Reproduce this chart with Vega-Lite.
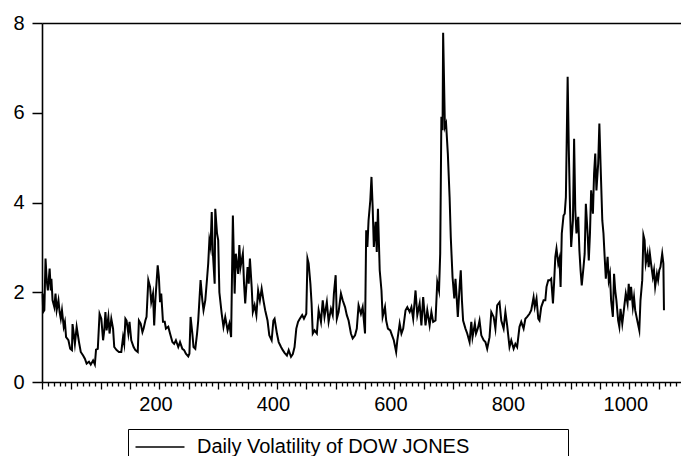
{
  "$schema": "https://vega.github.io/schema/vega-lite/v6.json",
  "width": 639,
  "height": 359,
  "autosize": {"type": "none"},
  "padding": {"left": 42, "top": 23, "right": 0, "bottom": 74},
  "background": "white",
  "config": {
    "view": {"stroke": null},
    "font": "Liberation Sans"
  },
  "data": {"values": [
{"t":1,"v":1.97},{"t":2,"v":1.56},{"t":4,"v":1.6},{"t":6,"v":2.75},{"t":8,"v":2.27},{"t":10,"v":2.04},{"t":13,"v":2.53},{"t":15,"v":2.04},{"t":16,"v":2.3},{"t":18,"v":1.82},{"t":21,"v":1.67},{"t":23,"v":1.97},{"t":25,"v":1.6},{"t":28,"v":1.82},{"t":30,"v":1.56},{"t":32,"v":1.41},{"t":34,"v":1.6},{"t":37,"v":1.23},{"t":39,"v":1.34},{"t":41,"v":1.0},{"t":45,"v":0.93},{"t":48,"v":0.74},{"t":51,"v":0.71},{"t":52,"v":1.29},{"t":54,"v":1.08},{"t":56,"v":0.85},{"t":59,"v":1.23},{"t":63,"v":0.89},{"t":66,"v":0.67},{"t":70,"v":0.59},{"t":73,"v":0.52},{"t":76,"v":0.41},{"t":80,"v":0.45},{"t":83,"v":0.39},{"t":87,"v":0.48},{"t":90,"v":0.39},{"t":92,"v":0.72},{"t":95,"v":0.74},{"t":98,"v":1.52},{"t":101,"v":1.41},{"t":104,"v":0.93},{"t":106,"v":1.15},{"t":108,"v":1.56},{"t":110,"v":1.15},{"t":113,"v":1.45},{"t":115,"v":1.08},{"t":118,"v":1.41},{"t":121,"v":1.19},{"t":123,"v":0.78},{"t":127,"v":0.71},{"t":131,"v":0.67},{"t":135,"v":0.67},{"t":138,"v":1.0},{"t":140,"v":0.85},{"t":142,"v":1.41},{"t":144,"v":1.37},{"t":147,"v":1.08},{"t":149,"v":1.34},{"t":152,"v":0.93},{"t":156,"v":0.78},{"t":159,"v":0.71},{"t":163,"v":0.67},{"t":165,"v":1.37},{"t":168,"v":1.3},{"t":171,"v":1.11},{"t":173,"v":1.19},{"t":176,"v":1.37},{"t":178,"v":1.45},{"t":181,"v":2.27},{"t":184,"v":2.12},{"t":186,"v":1.78},{"t":189,"v":1.97},{"t":191,"v":1.26},{"t":193,"v":1.82},{"t":197,"v":2.6},{"t":199,"v":2.34},{"t":201,"v":1.78},{"t":203,"v":1.97},{"t":206,"v":1.34},{"t":209,"v":1.34},{"t":211,"v":1.19},{"t":215,"v":1.23},{"t":218,"v":1.08},{"t":222,"v":0.89},{"t":225,"v":0.85},{"t":228,"v":0.93},{"t":232,"v":0.78},{"t":235,"v":0.89},{"t":239,"v":0.74},{"t":242,"v":0.71},{"t":245,"v":0.63},{"t":249,"v":0.57},{"t":251,"v":0.63},{"t":253,"v":1.45},{"t":256,"v":1.08},{"t":258,"v":0.78},{"t":261,"v":0.74},{"t":264,"v":1.08},{"t":266,"v":1.37},{"t":268,"v":1.82},{"t":270,"v":2.27},{"t":273,"v":1.82},{"t":275,"v":1.6},{"t":278,"v":1.82},{"t":281,"v":2.3},{"t":283,"v":2.64},{"t":285,"v":3.16},{"t":287,"v":3.01},{"t":289,"v":3.79},{"t":291,"v":2.86},{"t":294,"v":2.19},{"t":295,"v":3.86},{"t":298,"v":3.31},{"t":300,"v":3.16},{"t":302,"v":2.0},{"t":306,"v":1.52},{"t":309,"v":1.23},{"t":312,"v":1.45},{"t":316,"v":1.15},{"t":319,"v":1.3},{"t":322,"v":1.0},{"t":325,"v":3.71},{"t":328,"v":1.97},{"t":330,"v":2.86},{"t":334,"v":2.41},{"t":336,"v":3.05},{"t":338,"v":2.56},{"t":342,"v":2.86},{"t":344,"v":2.19},{"t":346,"v":1.75},{"t":350,"v":2.56},{"t":352,"v":2.19},{"t":354,"v":2.75},{"t":357,"v":2.12},{"t":359,"v":1.56},{"t":362,"v":1.71},{"t":365,"v":1.49},{"t":368,"v":2.04},{"t":371,"v":1.82},{"t":374,"v":2.08},{"t":377,"v":1.82},{"t":380,"v":1.6},{"t":384,"v":1.37},{"t":387,"v":1.04},{"t":391,"v":0.93},{"t":394,"v":1.37},{"t":396,"v":1.41},{"t":400,"v":1.08},{"t":403,"v":0.89},{"t":407,"v":0.78},{"t":410,"v":0.71},{"t":413,"v":0.65},{"t":417,"v":0.59},{"t":420,"v":0.71},{"t":424,"v":0.56},{"t":427,"v":0.62},{"t":430,"v":0.78},{"t":433,"v":1.19},{"t":436,"v":1.34},{"t":439,"v":1.41},{"t":443,"v":1.49},{"t":446,"v":1.41},{"t":450,"v":1.52},{"t":452,"v":2.75},{"t":454,"v":2.64},{"t":457,"v":2.19},{"t":459,"v":1.75},{"t":461,"v":1.08},{"t":464,"v":1.15},{"t":468,"v":1.08},{"t":471,"v":1.6},{"t":475,"v":1.34},{"t":478,"v":1.82},{"t":481,"v":1.45},{"t":485,"v":1.78},{"t":488,"v":1.34},{"t":492,"v":1.63},{"t":495,"v":1.49},{"t":497,"v":1.97},{"t":500,"v":2.38},{"t":502,"v":1.41},{"t":505,"v":1.56},{"t":509,"v":1.97},{"t":512,"v":1.82},{"t":516,"v":1.67},{"t":519,"v":1.49},{"t":522,"v":1.37},{"t":526,"v":1.08},{"t":529,"v":0.97},{"t":533,"v":1.04},{"t":536,"v":1.19},{"t":539,"v":1.71},{"t":543,"v":1.52},{"t":546,"v":1.67},{"t":550,"v":1.08},{"t":552,"v":3.38},{"t":554,"v":3.01},{"t":556,"v":3.6},{"t":559,"v":4.05},{"t":561,"v":4.57},{"t":563,"v":3.9},{"t":565,"v":3.01},{"t":568,"v":3.57},{"t":570,"v":2.9},{"t":572,"v":3.86},{"t":575,"v":2.49},{"t":578,"v":2.04},{"t":580,"v":1.45},{"t":584,"v":1.67},{"t":586,"v":1.37},{"t":589,"v":1.19},{"t":593,"v":1.15},{"t":596,"v":1.04},{"t":599,"v":0.93},{"t":603,"v":0.67},{"t":605,"v":0.93},{"t":609,"v":1.3},{"t":612,"v":1.08},{"t":615,"v":1.19},{"t":619,"v":1.6},{"t":622,"v":1.67},{"t":626,"v":1.56},{"t":629,"v":1.67},{"t":632,"v":1.41},{"t":636,"v":2.04},{"t":639,"v":1.49},{"t":643,"v":1.75},{"t":646,"v":1.26},{"t":649,"v":1.89},{"t":653,"v":1.26},{"t":656,"v":1.6},{"t":660,"v":1.26},{"t":663,"v":1.56},{"t":666,"v":1.34},{"t":670,"v":1.37},{"t":673,"v":2.23},{"t":676,"v":2.04},{"t":678,"v":2.86},{"t":680,"v":5.91},{"t":682,"v":5.61},{"t":683,"v":7.78},{"t":686,"v":5.68},{"t":688,"v":5.76},{"t":691,"v":5.09},{"t":694,"v":4.12},{"t":696,"v":3.23},{"t":697,"v":2.93},{"t":699,"v":2.34},{"t":702,"v":1.86},{"t":704,"v":2.3},{"t":706,"v":1.89},{"t":708,"v":1.45},{"t":711,"v":2.12},{"t":713,"v":2.49},{"t":715,"v":1.82},{"t":717,"v":1.37},{"t":721,"v":1.19},{"t":724,"v":1.08},{"t":728,"v":0.89},{"t":731,"v":1.34},{"t":733,"v":1.0},{"t":737,"v":1.3},{"t":739,"v":1.08},{"t":742,"v":1.19},{"t":745,"v":1.37},{"t":748,"v":1.04},{"t":752,"v":0.93},{"t":755,"v":0.89},{"t":758,"v":0.74},{"t":762,"v":1.0},{"t":765,"v":1.56},{"t":769,"v":1.45},{"t":772,"v":1.19},{"t":775,"v":1.71},{"t":779,"v":1.78},{"t":782,"v":1.37},{"t":786,"v":1.19},{"t":789,"v":1.56},{"t":792,"v":1.26},{"t":796,"v":0.78},{"t":799,"v":0.93},{"t":803,"v":0.74},{"t":806,"v":0.85},{"t":809,"v":0.78},{"t":813,"v":1.23},{"t":816,"v":1.34},{"t":820,"v":1.19},{"t":823,"v":1.41},{"t":826,"v":1.45},{"t":830,"v":1.52},{"t":833,"v":1.6},{"t":837,"v":1.89},{"t":839,"v":1.67},{"t":842,"v":1.86},{"t":845,"v":1.41},{"t":847,"v":1.37},{"t":850,"v":1.67},{"t":854,"v":1.82},{"t":857,"v":1.82},{"t":859,"v":2.12},{"t":862,"v":2.27},{"t":865,"v":2.27},{"t":867,"v":2.3},{"t":870,"v":1.75},{"t":872,"v":2.23},{"t":874,"v":2.79},{"t":876,"v":2.97},{"t":879,"v":2.64},{"t":881,"v":2.75},{"t":883,"v":2.12},{"t":885,"v":3.31},{"t":888,"v":3.71},{"t":890,"v":3.75},{"t":892,"v":4.12},{"t":895,"v":6.8},{"t":897,"v":5.16},{"t":899,"v":3.9},{"t":901,"v":3.01},{"t":904,"v":3.6},{"t":906,"v":5.42},{"t":908,"v":3.83},{"t":910,"v":3.31},{"t":913,"v":3.68},{"t":915,"v":2.93},{"t":917,"v":2.49},{"t":919,"v":2.15},{"t":922,"v":2.56},{"t":924,"v":2.86},{"t":926,"v":3.97},{"t":929,"v":3.31},{"t":931,"v":2.71},{"t":933,"v":3.31},{"t":935,"v":4.27},{"t":938,"v":3.75},{"t":940,"v":4.64},{"t":942,"v":5.09},{"t":944,"v":4.27},{"t":947,"v":4.87},{"t":949,"v":5.76},{"t":951,"v":4.87},{"t":954,"v":3.6},{"t":956,"v":3.31},{"t":958,"v":2.79},{"t":960,"v":2.3},{"t":963,"v":2.79},{"t":965,"v":2.27},{"t":967,"v":2.41},{"t":969,"v":1.82},{"t":972,"v":1.45},{"t":974,"v":2.41},{"t":976,"v":2.04},{"t":978,"v":1.82},{"t":981,"v":1.37},{"t":983,"v":1.23},{"t":985,"v":1.63},{"t":988,"v":1.3},{"t":990,"v":1.52},{"t":992,"v":1.75},{"t":994,"v":1.97},{"t":997,"v":1.75},{"t":999,"v":2.19},{"t":1001,"v":1.82},{"t":1003,"v":2.12},{"t":1006,"v":1.67},{"t":1008,"v":1.89},{"t":1010,"v":1.6},{"t":1014,"v":1.34},{"t":1017,"v":1.15},{"t":1019,"v":1.82},{"t":1022,"v":2.27},{"t":1024,"v":3.27},{"t":1026,"v":3.16},{"t":1028,"v":2.64},{"t":1031,"v":2.86},{"t":1033,"v":2.56},{"t":1035,"v":2.86},{"t":1037,"v":2.64},{"t":1040,"v":2.34},{"t":1042,"v":2.49},{"t":1044,"v":2.12},{"t":1047,"v":2.41},{"t":1049,"v":2.27},{"t":1051,"v":2.49},{"t":1053,"v":2.56},{"t":1056,"v":2.86},{"t":1058,"v":2.64},{"t":1059,"v":1.6}
  ]},
  "resolve": {"axis": {"x": "independent"}},
  "layer": [
    {
      "mark": {"type": "line", "strokeWidth": 2, "strokeJoin": "miter", "strokeMiterLimit": 10},
      "encoding": {
        "x": {
          "field": "t", "type": "quantitative",
          "scale": {"domain": [0, 1088], "nice": false, "zero": false},
          "axis": {
            "orient": "bottom", "title": null, "grid": false, "format": "d",
            "values": [0,10,20,30,40,50,60,70,80,90,100,110,120,130,140,150,160,170,180,190,200,210,220,230,240,250,260,270,280,290,300,310,320,330,340,350,360,370,380,390,400,410,420,430,440,450,460,470,480,490,500,510,520,530,540,550,560,570,580,590,600,610,620,630,640,650,660,670,680,690,700,710,720,730,740,750,760,770,780,790,800,810,820,830,840,850,860,870,880,890,900,910,920,930,940,950,960,970,980,990,1000,1010,1020,1030,1040,1050,1060,1070,1080],
            "labelExpr": "datum.value % 200 === 0 && datum.value > 0 ? datum.label : ''",
            "labelFontSize": 20, "labelColor": "black", "labelFont": "Liberation Sans",
            "labelPadding": 5, "labelOffset": -4, "labelOverlap": false, "labelFlush": false,
            "domainColor": "black", "domainWidth": 1.6,
            "tickColor": "black", "tickWidth": 1.3,
            "tickSize": {"condition": {"test": "datum.value % 50 === 0", "value": 7}, "value": 4}
          }
        },
        "y": {
          "field": "v", "type": "quantitative",
          "scale": {"domain": [0, 8], "nice": false},
          "axis": {
            "orient": "left", "title": null, "grid": false,
            "values": [0, 2, 4, 6, 8],
            "labelFontSize": 20, "labelColor": "black", "labelFont": "Liberation Sans",
            "labelPadding": 8,
            "domainColor": "black", "domainWidth": 1.6,
            "tickColor": "black", "tickWidth": 1.5, "tickSize": 10
          }
        },
        "color": {
          "datum": "Daily Volatility of DOW JONES",
          "scale": {"range": ["black"]},
          "legend": {
            "orient": "none", "legendX": 86, "legendY": 406,
            "title": null,
            "strokeColor": "black", "padding": 8,
            "symbolType": "M-5,0L5,0", "symbolSize": 96, "symbolOffset": 14,
            "symbolStrokeWidth": 1.5, "symbolStrokeColor": "black",
            "labelFontSize": 20, "labelFont": "Liberation Sans", "labelColor": "black", "labelOffset": 27,
            "labelLimit": 1000,
            "labelExpr": "datum.label + '\u2800\u2800\u2800\u2800\u2800\u2800'"
          }
        }
      }
    },
    {
      "mark": {"type": "line", "strokeOpacity": 0},
      "encoding": {
        "x": {
          "field": "t", "type": "quantitative",
          "axis": {"orient": "top", "title": null, "grid": false, "ticks": false, "labels": false, "domainColor": "black", "domainWidth": 1.6}
        },
        "y": {"field": "v", "type": "quantitative"}
      }
    }
  ]
}
